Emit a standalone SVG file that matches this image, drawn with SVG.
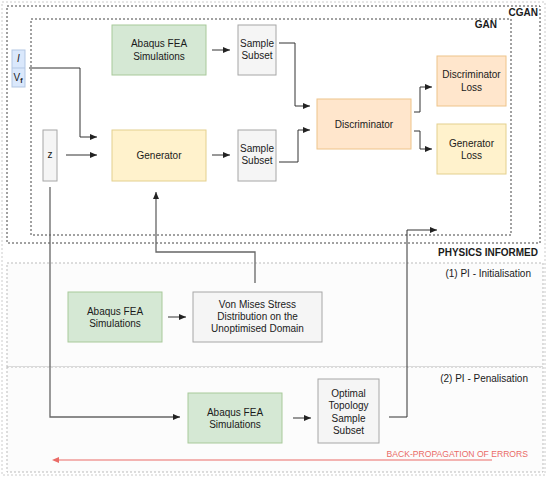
<svg xmlns="http://www.w3.org/2000/svg" width="548" height="478" viewBox="0 0 548 478">
<defs>
<style>
text{font-family:"Liberation Sans",Arial,sans-serif;font-size:10px;fill:#1a1a1a}
.c{text-anchor:middle}
.r{text-anchor:end}
.b{font-weight:bold}
.g{fill:#d5e8d4;stroke:#a8c99a;stroke-width:1}
.y{fill:#fff2cc;stroke:#e3d08e;stroke-width:1}
.o{fill:#ffe6cc;stroke:#eec48a;stroke-width:1}
.s{fill:#f5f5f5;stroke:#a6a6a6;stroke-width:1}
.bl{fill:#dae8fc;stroke:#b3c7e3;stroke-width:1}
.frame{fill:none;stroke:#444;stroke-width:1;stroke-dasharray:2 2}
.pi{fill:#fcfcfc;stroke:#bbb;stroke-width:1;stroke-dasharray:2 2}
.edge{fill:none;stroke:#333;stroke-width:1;marker-end:url(#ah)}
.edge2{fill:none;stroke:#666;stroke-width:1.3;marker-end:url(#ah)}
</style>
<marker id="ah" markerUnits="userSpaceOnUse" markerWidth="8" markerHeight="8" refX="7" refY="4" orient="auto"><path d="M0,1 L7,4 L0,7 Z" fill="#222"/></marker>
<marker id="ahr" markerUnits="userSpaceOnUse" markerWidth="8" markerHeight="8" refX="0" refY="4" orient="auto-start-reverse"><path d="M0,1 L7,4 L0,7 Z" fill="#ea6b66"/></marker>
</defs>
<rect x="0" y="0" width="548" height="478" fill="#fff"/>
<g id="outer"><rect x="2" y="2" width="543" height="473" fill="none" stroke="#ccc" stroke-dasharray="2 2"/></g>
<g id="pi-init"><rect class="pi" x="7" y="263" width="536" height="104"/><text class="r" x="531" y="276.5">(1) PI - Initialisation</text></g>
<g id="pi-pen"><rect class="pi" x="7" y="367" width="536" height="105"/><text class="r" x="528" y="381.5">(2) PI - Penalisation</text></g>
<g id="cgan"><rect class="frame" x="7" y="6" width="533" height="237"/><text class="r b" x="538" y="15.5">CGAN</text></g>
<g id="gan"><rect class="frame" x="31" y="19" width="480" height="216"/><text class="r b" x="497" y="27.5">GAN</text></g>
<text class="r b" x="538" y="255.5">PHYSICS INFORMED</text>

<g id="connectors">
<path class="edge" d="M29,68 H80 V137 H97"/>
<path class="edge" d="M66,155 H97"/>
<path class="edge" d="M212,50 H230"/>
<path class="edge" d="M212,155 H230"/>
<path class="edge" d="M279,43 H295 V106 H310"/>
<path class="edge" d="M279,162 H298 V130 H310"/>
<path class="edge" d="M414,112 H420 V87 H432"/>
<path class="edge" d="M414,131 H420 V149 H432"/>
<path class="edge2" d="M50,187 V417 H180"/>
<path class="edge2" d="M255,283 V252 H156 V192"/>
<path class="edge" d="M168,317 H186"/>
<path class="edge" d="M293,418 H311"/>
<path class="edge" d="M389,417 H407 V230 H437"/>
<path d="M492,460 H59" fill="none" stroke="#ea6b66" stroke-width="1" marker-end="url(#ahr)"/>
</g>

<g id="ivf"><rect class="bl" x="12" y="50" width="13" height="37"/><line x1="12" y1="68" x2="25" y2="68" stroke="#b3c7e3"/><text class="c" x="18.5" y="62" font-style="italic">I</text><text class="c" x="18" y="81">V<tspan font-size="7" font-weight="bold" dy="2">f</tspan></text></g>
<g id="z"><rect class="s" x="43" y="130" width="14" height="51"/><text class="c" x="50" y="158">z</text></g>
<g id="abaqus1"><rect class="g" x="112" y="25" width="94" height="50"/><text class="c" x="159" y="47">Abaqus FEA</text><text class="c" x="159" y="59.5">Simulations</text></g>
<g id="sample1"><rect class="s" x="238" y="25" width="38" height="50"/><text class="c" x="257" y="46.5">Sample</text><text class="c" x="257" y="58.5">Subset</text></g>
<g id="generator"><rect class="y" x="112" y="130" width="94" height="51"/><text class="c" x="159" y="159">Generator</text></g>
<g id="sample2"><rect class="s" x="238" y="130" width="38" height="51"/><text class="c" x="257" y="151.5">Sample</text><text class="c" x="257" y="163.5">Subset</text></g>
<g id="discriminator"><rect class="o" x="317" y="99" width="94" height="50"/><text class="c" x="364" y="127.5">Discriminator</text></g>
<g id="discloss"><rect class="o" x="437" y="56" width="69" height="50"/><text class="c" x="471.5" y="77.5">Discriminator</text><text class="c" x="471.5" y="90.5">Loss</text></g>
<g id="genloss"><rect class="y" x="437" y="124" width="69" height="50"/><text class="c" x="471.5" y="146.5">Generator</text><text class="c" x="471.5" y="158.5">Loss</text></g>
<g id="abaqus2"><rect class="g" x="68" y="292" width="94" height="50"/><text class="c" x="115" y="314.5">Abaqus FEA</text><text class="c" x="115" y="326.5">Simulations</text></g>
<g id="vonmises"><rect class="s" x="193" y="292" width="129" height="50"/><text class="c" x="257.5" y="307.5">Von Mises Stress</text><text class="c" x="257.5" y="319.5">Distribution on the</text><text class="c" x="257.5" y="331.5">Unoptimised Domain</text></g>
<g id="abaqus3"><rect class="g" x="188" y="393" width="94" height="50"/><text class="c" x="235" y="415.5">Abaqus FEA</text><text class="c" x="235" y="427.5">Simulations</text></g>
<g id="optimal"><rect class="s" x="318" y="379" width="61" height="64"/><text class="c" x="348.5" y="396.5">Optimal</text><text class="c" x="348.5" y="409">Topology</text><text class="c" x="348.5" y="421.5">Sample</text><text class="c" x="348.5" y="434">Subset</text></g>
<text class="r" x="528" y="457" font-size="8.6" fill="#ea6b66" style="fill:#ea6b66;font-size:8.6px">BACK-PROPAGATION OF ERRORS</text>
</svg>
